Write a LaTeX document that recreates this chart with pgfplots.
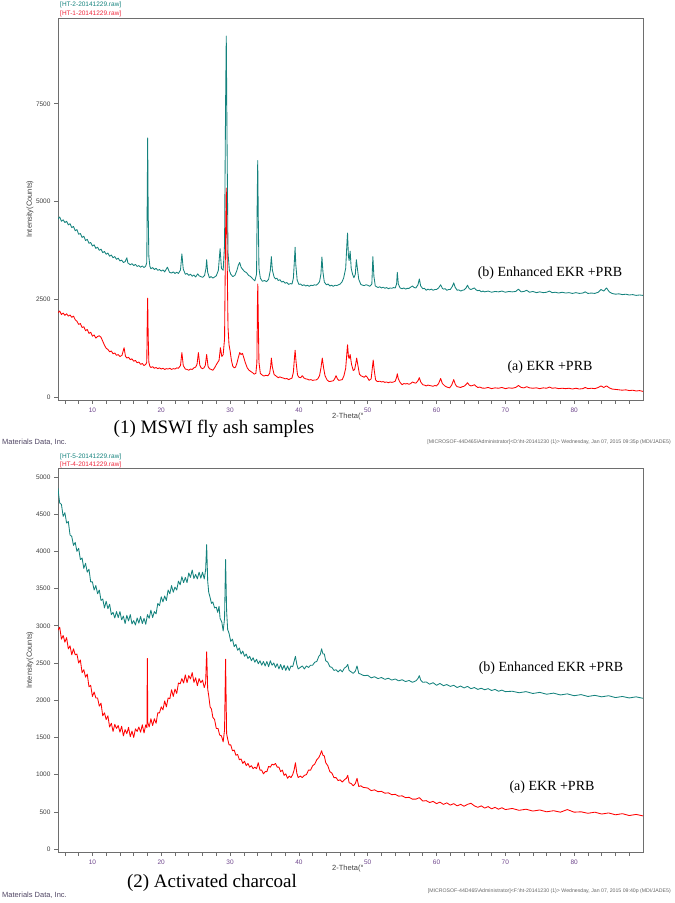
\documentclass[border=0pt]{standalone}
\usepackage{pgfplots}
\pgfplotsset{compat=1.18}
\usepackage{fontspec}
\setmainfont{Liberation Serif}
\newfontfamily\arial{Liberation Sans}
\definecolor{tealc}{RGB}{20,130,125}
\definecolor{redc}{RGB}{255,0,0}
\definecolor{axgray}{RGB}{110,110,110}
\definecolor{ticklab}{RGB}{110,70,140}
\definecolor{hdrred}{RGB}{240,40,60}
\definecolor{mdi}{RGB}{80,70,100}
\pgfplotsset{
  xrd/.style={
    scale only axis, width=585pt, xmin=5, xmax=90,
    axis line style={draw=axgray, line width=0.9pt},
    every tick/.style={draw=axgray, line width=0.6pt},
    tick align=outside,
    major tick length=4pt, minor tick length=4pt,
    xtick={10,20,...,80}, minor xtick={6,8,...,88},
    xtick pos=lower, ytick pos=left,
    ticklabel style={font=\arial\fontsize{6.5}{7}\selectfont},
    xticklabel style={text=ticklab},
    yticklabel style={text=black!75},
    /pgf/number format/assume math mode=true,
    /pgf/number format/1000 sep={},
    scaled y ticks=false,
    clip=true,
  },
  tealline/.style={tealc, line width=0.85pt, line join=round},
  redline/.style={redc, line width=0.85pt, line join=round},
}
\begin{document}
\begin{tikzpicture}[x=1pt,y=1pt]
\path[use as bounding box] (0pt,0pt) rectangle (675pt,903pt);

% ---------------- top panel ----------------
\begin{axis}[xrd, at={(58pt,503pt)}, anchor=south west, height=382pt,
  ymin=-60, ymax=9690, ytick={0,2500,5000,7500}]
\addplot[tealline] coordinates {
(5.0,4560)(5.25,4610)(5.5,4500)(5.75,4540)(6.0,4470)(6.25,4500)(6.5,4410)(6.75,4440)(7.0,4340)(7.25,4370)(7.5,4260)(7.75,4290)(8.0,4170)(8.25,4190)(8.5,4090)(8.75,4120)(9.0,4010)(9.25,4040)(9.5,3940)(9.75,3960)(10.0,3870)(10.25,3900)(10.5,3810)(10.75,3840)(11.0,3760)(11.25,3790)(11.5,3700)(11.75,3730)(12.0,3660)(12.25,3690)(12.5,3610)(12.75,3640)(13.0,3570)(13.25,3600)(13.5,3530)(13.75,3560)(14.0,3490)(14.25,3510)(14.5,3450)(14.75,3470)(15.0,3570)(15.15,3440)(15.5,3390)(15.75,3420)(16.0,3370)(16.25,3400)(16.5,3350)(16.75,3370)(17.0,3330)(17.25,3360)(17.5,3320)(17.75,3360)(17.9,3450)(17.97,5200)(18.03,6630)(18.1,4800)(18.2,3600)(18.35,3350)(18.5,3290)(18.75,3320)(19.0,3270)(19.25,3300)(19.5,3250)(19.75,3270)(20.0,3230)(20.25,3260)(20.5,3210)(20.9,3330)(21.2,3200)(21.5,3180)(21.75,3210)(22.0,3170)(22.25,3200)(22.5,3170)(22.8,3260)(23.0,3670)(23.2,3280)(23.5,3150)(23.75,3170)(24.0,3120)(24.25,3150)(24.5,3100)(24.75,3130)(25.0,3080)(25.3,3160)(25.5,3110)(25.75,3090)(26.0,3070)(26.3,3120)(26.5,3300)(26.6,3520)(26.75,3200)(27.0,3060)(27.25,3090)(27.5,3050)(27.75,3080)(28.0,3110)(28.3,3250)(28.55,3800)(28.75,3300)(29.0,3250)(29.2,3900)(29.35,7500)(29.45,9230)(29.55,6800)(29.7,3700)(29.9,3250)(30.1,3150)(30.4,3090)(30.7,3120)(31.0,3250)(31.2,3380)(31.4,3450)(31.6,3330)(31.8,3280)(32.1,3220)(32.4,3190)(32.7,3120)(33.0,3090)(33.3,3030)(33.6,2980)(33.85,3150)(33.95,5100)(34.02,6050)(34.1,4600)(34.2,3300)(34.4,3050)(34.7,2970)(35.0,2990)(35.3,2960)(35.6,3020)(35.85,3250)(36.0,3600)(36.15,3250)(36.4,3080)(36.6,3030)(36.8,3050)(37.0,2990)(37.25,3010)(37.5,2950)(37.75,2970)(38.0,2920)(38.25,2940)(38.5,2890)(38.75,2910)(39.0,2900)(39.2,3050)(39.35,3500)(39.45,3840)(39.55,3400)(39.75,3000)(40.0,2890)(40.25,2900)(40.5,2860)(40.75,2880)(41.0,2850)(41.25,2870)(41.5,2840)(41.75,2870)(42.0,2860)(42.25,2880)(42.5,2870)(42.75,2900)(43.0,2960)(43.2,3150)(43.35,3590)(43.5,3200)(43.7,2950)(44.0,2880)(44.25,2900)(44.5,2850)(44.75,2870)(45.0,2840)(45.25,2870)(45.5,2860)(45.75,2880)(46.0,2900)(46.25,2950)(46.5,3050)(46.8,3300)(47.0,4000)(47.07,4200)(47.2,3600)(47.3,3500)(47.45,3740)(47.6,3300)(47.8,3150)(48.0,3060)(48.2,3150)(48.35,3520)(48.5,3300)(48.7,3020)(49.0,2890)(49.25,2870)(49.5,2860)(49.75,2880)(50.0,2870)(50.3,2840)(50.6,2900)(50.75,3600)(50.9,3100)(51.1,2850)(51.5,2810)(51.75,2830)(52.0,2800)(52.25,2820)(52.5,2790)(52.75,2810)(53.0,2780)(53.25,2800)(53.5,2790)(53.75,2810)(54.0,2800)(54.2,2900)(54.3,3200)(54.45,2900)(54.7,2800)(55.0,2780)(55.25,2800)(55.5,2770)(55.75,2790)(56.0,2790)(56.25,2820)(56.5,2850)(56.75,2810)(57.0,2800)(57.3,2880)(57.5,3030)(57.7,2850)(58.0,2780)(58.25,2790)(58.5,2740)(58.75,2770)(59.0,2750)(59.25,2770)(59.5,2740)(59.75,2760)(60.0,2760)(60.3,2800)(60.6,2880)(60.85,2790)(61.0,2770)(61.25,2780)(61.5,2740)(61.75,2760)(62.0,2760)(62.3,2840)(62.5,2930)(62.7,2820)(63.0,2740)(63.25,2750)(63.5,2720)(63.75,2740)(64.0,2750)(64.3,2800)(64.5,2870)(64.75,2780)(65.0,2760)(65.25,2780)(65.5,2800)(65.75,2750)(66.0,2730)(66.25,2740)(66.5,2700)(66.75,2720)(67.0,2700)(67.5,2720)(68.0,2690)(68.5,2710)(69.0,2700)(69.5,2720)(70.0,2690)(70.5,2710)(71.0,2700)(71.5,2710)(71.9,2770)(72.3,2700)(72.7,2710)(73.1,2740)(73.5,2690)(74.0,2710)(74.5,2680)(75.0,2700)(75.5,2680)(76.0,2690)(76.4,2720)(76.8,2680)(77.25,2690)(77.75,2670)(78.25,2690)(78.75,2670)(79.25,2680)(79.75,2660)(80.25,2680)(80.75,2660)(81.25,2670)(81.6,2700)(82.0,2660)(82.5,2670)(83.0,2660)(83.5,2690)(83.9,2760)(84.3,2720)(84.7,2800)(85.1,2700)(85.5,2660)(86.0,2640)(86.5,2650)(87.0,2630)(87.5,2640)(88.0,2620)(88.5,2630)(89.0,2610)(89.5,2620)(90.0,2610)
};
\addplot[redline] coordinates {
(5.0,2170)(5.25,2210)(5.5,2120)(5.75,2160)(6.0,2100)(6.25,2140)(6.5,2080)(6.75,2110)(7.0,2050)(7.25,2080)(7.5,1990)(7.75,1950)(8.0,1870)(8.25,1890)(8.5,1790)(8.75,1810)(9.0,1710)(9.25,1740)(9.5,1640)(9.75,1670)(10.0,1570)(10.25,1600)(10.5,1520)(10.75,1560)(11.0,1580)(11.25,1540)(11.5,1440)(11.75,1340)(12.0,1260)(12.25,1230)(12.5,1170)(12.75,1190)(13.0,1120)(13.25,1140)(13.5,1080)(13.75,1100)(14.0,1050)(14.3,1080)(14.6,1275)(14.8,1060)(15.0,1010)(15.25,1030)(15.5,970)(15.75,990)(16.0,930)(16.25,950)(16.5,890)(16.75,910)(17.0,850)(17.25,870)(17.5,820)(17.75,850)(17.9,900)(17.97,2000)(18.03,2540)(18.1,1600)(18.2,900)(18.35,800)(18.5,770)(18.75,790)(19.0,750)(19.25,770)(19.5,740)(19.75,760)(20.0,730)(20.25,750)(20.5,720)(20.75,740)(21.0,730)(21.25,750)(21.5,720)(21.75,740)(22.0,730)(22.25,760)(22.5,750)(22.8,820)(23.0,1150)(23.2,820)(23.5,730)(23.75,720)(24.0,700)(24.25,730)(24.5,720)(24.75,760)(25.0,780)(25.2,850)(25.4,1150)(25.6,830)(25.8,760)(26.0,740)(26.2,760)(26.4,820)(26.6,1100)(26.8,800)(27.0,740)(27.25,720)(27.5,700)(27.75,760)(28.0,840)(28.2,900)(28.4,950)(28.6,1275)(28.8,1050)(29.0,1100)(29.2,1500)(29.35,4200)(29.45,5350)(29.55,4000)(29.7,1800)(29.85,1350)(30.0,1200)(30.2,950)(30.4,800)(30.6,760)(30.8,780)(31.0,880)(31.2,1020)(31.4,1150)(31.6,1100)(31.8,1130)(32.0,1020)(32.2,900)(32.5,760)(32.75,700)(33.0,670)(33.25,640)(33.5,600)(33.75,620)(33.9,900)(33.97,2300)(34.03,2900)(34.1,2000)(34.2,900)(34.4,620)(34.65,580)(34.9,550)(35.2,570)(35.5,560)(35.75,620)(35.9,800)(36.0,1010)(36.15,780)(36.4,590)(36.7,550)(37.0,510)(37.25,530)(37.5,510)(37.75,500)(38.0,480)(38.25,490)(38.5,460)(38.75,480)(39.0,500)(39.2,650)(39.35,1000)(39.45,1210)(39.6,900)(39.8,580)(40.0,520)(40.25,510)(40.5,560)(40.75,500)(41.0,480)(41.25,470)(41.5,450)(41.75,460)(42.0,440)(42.25,450)(42.5,450)(42.75,480)(43.0,560)(43.2,750)(43.4,1010)(43.6,750)(43.8,560)(44.1,450)(44.4,410)(44.7,420)(45.0,430)(45.2,480)(45.4,560)(45.6,480)(45.8,440)(46.05,450)(46.3,460)(46.55,560)(46.8,750)(47.0,1200)(47.07,1350)(47.2,1050)(47.3,1000)(47.45,1100)(47.65,850)(47.9,690)(48.1,720)(48.25,850)(48.4,1010)(48.55,850)(48.8,600)(49.0,560)(49.25,540)(49.5,520)(49.7,560)(49.9,530)(50.2,440)(50.5,480)(50.7,800)(50.8,960)(50.95,700)(51.15,450)(51.4,410)(51.75,420)(52.0,400)(52.25,410)(52.5,390)(52.75,400)(53.0,380)(53.25,400)(53.5,390)(53.75,400)(54.0,420)(54.2,520)(54.3,610)(54.45,480)(54.7,390)(55.0,330)(55.25,360)(55.5,350)(55.75,360)(56.0,340)(56.25,360)(56.5,400)(56.75,380)(57.0,370)(57.3,430)(57.5,510)(57.7,400)(58.0,330)(58.25,320)(58.5,300)(58.75,320)(59.0,310)(59.25,300)(59.5,290)(59.75,310)(60.0,300)(60.3,360)(60.6,490)(60.85,360)(61.2,300)(61.5,270)(61.9,250)(62.2,320)(62.5,460)(62.75,330)(63.0,280)(63.25,270)(63.5,260)(63.75,280)(64.0,290)(64.25,330)(64.5,380)(64.75,320)(65.0,300)(65.25,310)(65.5,330)(65.75,290)(66.0,260)(66.3,270)(66.6,245)(67.0,240)(67.5,260)(68.0,230)(68.5,250)(69.0,240)(69.5,260)(70.0,230)(70.5,250)(71.0,240)(71.5,260)(71.9,310)(72.3,260)(72.7,250)(73.1,280)(73.5,250)(74.0,240)(74.5,250)(75.0,230)(75.5,250)(76.0,240)(76.4,270)(76.8,240)(77.25,250)(77.75,230)(78.25,240)(78.75,230)(79.25,240)(79.75,220)(80.25,240)(80.75,220)(81.25,230)(81.6,260)(82.0,230)(82.5,240)(83.0,230)(83.5,260)(83.9,300)(84.3,260)(84.7,300)(85.1,250)(85.5,220)(86.0,210)(86.5,200)(87.0,190)(87.5,200)(88.0,180)(88.5,190)(89.0,170)(89.5,180)(90.0,160)
};
\end{axis}

% ---------------- bottom panel ----------------
\begin{axis}[xrd, at={(58pt,51pt)}, anchor=south west, height=384pt,
  ymin=-40, ymax=5120, ytick={0,500,...,5000}]
\addplot[tealline] coordinates {
(5.0,4850)(5.1,4760)(5.25,4650)(5.5,4630)(5.75,4470)(6.0,4520)(6.25,4380)(6.5,4400)(6.75,4220)(7.0,4200)(7.25,4080)(7.5,4120)(7.75,4000)(8.0,4040)(8.25,3890)(8.5,3910)(8.75,3770)(9.0,3840)(9.25,3720)(9.5,3760)(9.75,3590)(10.0,3590)(10.25,3480)(10.5,3540)(10.75,3430)(11.0,3480)(11.25,3340)(11.5,3360)(11.75,3240)(12.0,3330)(12.25,3230)(12.5,3290)(12.75,3150)(13.0,3180)(13.25,3105)(13.5,3190)(13.75,3110)(14.0,3190)(14.25,3080)(14.5,3130)(14.75,3030)(15.0,3140)(15.25,3065)(15.5,3150)(15.75,3025)(16.0,3070)(16.25,3010)(16.5,3105)(16.75,3035)(17.0,3125)(17.25,3030)(17.5,3100)(17.75,3020)(18.0,3150)(18.25,3100)(18.5,3210)(18.75,3110)(19.0,3190)(19.25,3160)(19.5,3300)(19.75,3270)(20.0,3390)(20.25,3320)(20.5,3400)(20.75,3340)(21.0,3480)(21.25,3430)(21.5,3540)(21.75,3450)(22.0,3520)(22.25,3480)(22.5,3600)(22.75,3550)(23.0,3660)(23.25,3580)(23.5,3650)(23.75,3580)(24.0,3710)(24.25,3650)(24.5,3750)(24.75,3635)(25.0,3690)(25.25,3630)(25.5,3720)(25.75,3640)(26.0,3720)(26.25,3630)(26.45,3750)(26.6,4090)(26.75,3600)(26.9,3450)(27.1,3380)(27.3,3300)(27.5,3320)(27.75,3240)(28.0,3250)(28.2,3180)(28.4,3260)(28.55,3100)(28.8,3050)(29.0,2930)(29.2,3100)(29.35,3890)(29.5,3200)(29.65,2950)(29.85,2900)(30.1,2790)(30.35,2820)(30.6,2720)(30.85,2750)(31.1,2670)(31.35,2700)(31.6,2620)(31.85,2660)(32.1,2590)(32.35,2620)(32.6,2560)(32.85,2590)(33.1,2530)(33.35,2570)(33.6,2510)(33.85,2550)(34.1,2490)(34.35,2530)(34.6,2470)(34.85,2520)(35.1,2460)(35.35,2520)(35.6,2450)(35.85,2530)(36.1,2470)(36.35,2500)(36.6,2440)(36.85,2490)(37.1,2420)(37.35,2480)(37.6,2410)(37.85,2470)(38.1,2400)(38.35,2460)(38.6,2400)(38.85,2460)(39.1,2450)(39.3,2520)(39.5,2590)(39.7,2480)(39.9,2420)(40.2,2440)(40.5,2460)(40.8,2420)(41.1,2460)(41.4,2440)(41.7,2470)(42.0,2470)(42.3,2510)(42.6,2520)(42.9,2590)(43.1,2610)(43.3,2690)(43.5,2620)(43.7,2620)(43.9,2530)(44.2,2510)(44.5,2450)(44.8,2440)(45.1,2400)(45.4,2410)(45.7,2380)(46.0,2410)(46.3,2380)(46.6,2430)(46.9,2450)(47.1,2480)(47.3,2400)(47.6,2380)(47.9,2360)(48.2,2390)(48.45,2460)(48.7,2360)(49.0,2350)(49.3,2335)(49.6,2330)(50.0,2335)(50.5,2300)(51.0,2315)(51.5,2290)(52.0,2305)(52.5,2280)(53.0,2295)(53.5,2270)(54.0,2285)(54.5,2260)(55.0,2275)(55.5,2250)(56.0,2265)(56.5,2240)(57.0,2260)(57.3,2290)(57.5,2330)(57.7,2270)(58.0,2240)(58.5,2245)(59.0,2215)(59.5,2235)(60.0,2200)(60.5,2225)(61.0,2195)(61.5,2210)(62.0,2185)(62.5,2200)(63.0,2170)(63.5,2190)(64.0,2165)(64.5,2185)(65.0,2155)(65.5,2170)(66.0,2145)(66.5,2160)(67.0,2140)(67.5,2155)(68.0,2130)(68.5,2145)(69.0,2120)(69.5,2135)(70.0,2115)(71.0,2120)(72.0,2100)(73.0,2115)(74.0,2090)(75.0,2105)(76.0,2080)(77.0,2095)(78.0,2070)(79.0,2085)(80.0,2060)(81.0,2075)(82.0,2050)(83.0,2065)(84.0,2045)(85.0,2060)(86.0,2035)(87.0,2050)(88.0,2030)(89.0,2045)(90.0,2025)
};
\addplot[redline] coordinates {
(5.0,2940)(5.25,2980)(5.5,2820)(5.75,2870)(6.0,2780)(6.25,2840)(6.5,2690)(6.75,2730)(7.0,2610)(7.25,2690)(7.5,2610)(7.75,2620)(8.0,2500)(8.25,2540)(8.5,2370)(8.75,2410)(9.0,2310)(9.25,2350)(9.5,2180)(9.75,2200)(10.0,2050)(10.25,2110)(10.5,2030)(10.75,2030)(11.0,1920)(11.25,1960)(11.5,1790)(11.75,1830)(12.0,1740)(12.25,1790)(12.5,1640)(12.75,1690)(13.0,1580)(13.25,1675)(13.5,1620)(13.75,1660)(14.0,1570)(14.25,1650)(14.5,1520)(14.75,1605)(15.0,1550)(15.25,1635)(15.5,1510)(15.75,1585)(16.0,1500)(16.25,1615)(16.5,1580)(16.75,1640)(17.0,1570)(17.25,1670)(17.5,1560)(17.75,1670)(17.92,1630)(17.98,2560)(18.05,1700)(18.25,1640)(18.5,1750)(18.75,1660)(19.0,1750)(19.25,1690)(19.5,1830)(19.75,1830)(20.0,1910)(20.25,1870)(20.5,1990)(20.75,1910)(21.0,2030)(21.25,2020)(21.5,2140)(21.75,2050)(22.0,2150)(22.25,2090)(22.5,2230)(22.75,2220)(23.0,2290)(23.25,2230)(23.5,2340)(23.75,2235)(24.0,2330)(24.25,2285)(24.5,2370)(24.75,2240)(25.0,2300)(25.25,2195)(25.5,2290)(25.75,2235)(26.0,2270)(26.25,2170)(26.45,2230)(26.6,2650)(26.75,2150)(26.9,2060)(27.1,1910)(27.3,1880)(27.5,1770)(27.75,1740)(28.0,1620)(28.25,1620)(28.5,1530)(28.75,1520)(29.0,1440)(29.2,1600)(29.35,2550)(29.5,1550)(29.65,1480)(29.85,1400)(30.1,1400)(30.35,1320)(30.6,1330)(30.85,1260)(31.1,1270)(31.35,1200)(31.6,1210)(31.85,1150)(32.1,1180)(32.35,1120)(32.6,1150)(32.85,1100)(33.1,1120)(33.35,1080)(33.6,1100)(33.85,1080)(34.1,1160)(34.35,1060)(34.6,1060)(34.85,1010)(35.1,1040)(35.35,1040)(35.6,1110)(35.85,1100)(36.1,1140)(36.35,1130)(36.6,1150)(36.85,1100)(37.1,1100)(37.35,1040)(37.6,1060)(37.85,990)(38.1,1010)(38.35,950)(38.6,980)(38.85,960)(39.1,1000)(39.3,1060)(39.5,1160)(39.7,1020)(39.9,960)(40.2,980)(40.5,960)(40.8,990)(41.1,1000)(41.4,1060)(41.7,1060)(42.0,1120)(42.3,1140)(42.6,1200)(42.9,1230)(43.1,1270)(43.3,1320)(43.5,1260)(43.7,1250)(43.9,1160)(44.2,1120)(44.5,1040)(44.8,1020)(45.1,960)(45.4,960)(45.7,920)(46.0,930)(46.3,900)(46.6,930)(46.9,950)(47.1,990)(47.3,890)(47.6,880)(47.9,850)(48.2,880)(48.45,950)(48.7,840)(49.0,850)(49.3,830)(49.6,825)(50.0,820)(50.5,785)(51.0,795)(51.5,770)(52.0,775)(52.5,750)(53.0,755)(53.5,730)(54.0,735)(54.5,710)(55.0,715)(55.5,690)(56.0,695)(56.5,670)(57.0,670)(57.5,690)(58.0,645)(58.5,650)(59.0,625)(59.5,640)(60.0,610)(60.5,630)(61.0,600)(61.5,620)(62.0,590)(62.5,610)(63.0,580)(63.5,600)(64.0,575)(64.5,600)(65.0,615)(65.5,580)(66.0,560)(66.5,580)(67.0,550)(67.5,570)(68.0,540)(68.5,560)(69.0,535)(69.5,555)(70.0,530)(71.0,545)(72.0,520)(73.0,535)(74.0,510)(75.0,525)(76.0,500)(77.0,515)(78.0,495)(79.0,530)(80.0,495)(81.0,500)(82.0,480)(83.0,495)(84.0,470)(85.0,485)(86.0,460)(87.0,475)(88.0,450)(89.0,465)(90.0,445)
};
\end{axis}

% ---------------- texts ----------------
\begin{scope}[font=\arial\fontsize{6.5}{7}\selectfont]
\node[anchor=west, text=tealc, inner sep=0] at (60pt,898pt) {[HT-2-20141229.raw]};
\node[anchor=west, text=hdrred, inner sep=0] at (60pt,889pt) {[HT-1-20141229.raw]};
\node[anchor=west, text=tealc, inner sep=0] at (60pt,446pt) {[HT-5-20141229.raw]};
\node[anchor=west, text=hdrred, inner sep=0] at (60pt,438pt) {[HT-4-20141229.raw]};
\end{scope}

\begin{scope}[font=\arial\fontsize{7.5}{8}\selectfont, text=black!75]
\node[rotate=90, inner sep=0] at (30pt,694pt) {Intensity(Counts)};
\node[rotate=90, inner sep=0] at (30pt,243pt) {Intensity(Counts)};
\node[anchor=west, inner sep=0] at (332pt,486pt) {2-Theta(°};
\node[anchor=west, inner sep=0] at (332pt,34pt) {2-Theta(°};
\end{scope}

\begin{scope}[font=\arial\fontsize{7.5}{8}\selectfont, text=mdi]
\node[anchor=west, inner sep=0] at (2pt,461pt) {Materials Data, Inc.};
\node[anchor=west, inner sep=0] at (2pt,8pt) {Materials Data, Inc.};
\end{scope}

\begin{scope}[font=\arial\fontsize{5.2}{6}\selectfont, text=black!60]
\node[anchor=east, inner sep=0] at (671pt,461pt) {[MICROSOF-44D465\textbackslash Administrator]<D:\textbackslash ht-20141230 (1)> Wednesday, Jan 07, 2015 09:35p (MDI/JADE5)};
\node[anchor=east, inner sep=0] at (671pt,12pt) {[MICROSOF-44D465\textbackslash Administrator]<F:\textbackslash ht-20141230 (1)> Wednesday, Jan 07, 2015 09:40p (MDI/JADE5)};
\end{scope}

\begin{scope}[font=\fontsize{19}{21}\selectfont]
\node[inner sep=0] at (214pt,474pt) {(1) MSWI fly ash samples};
\node[inner sep=0] at (212pt,20pt) {(2) Activated charcoal};
\end{scope}

\begin{scope}[font=\fontsize{14}{16}\selectfont]
\node[inner sep=0] at (550pt,630pt) {(b) Enhanced EKR +PRB};
\node[inner sep=0] at (550pt,536pt) {(a) EKR +PRB};
\node[inner sep=0] at (551pt,235pt) {(b) Enhanced EKR +PRB};
\node[inner sep=0] at (552pt,116pt) {(a) EKR +PRB};
\end{scope}
\end{tikzpicture}
\end{document}
